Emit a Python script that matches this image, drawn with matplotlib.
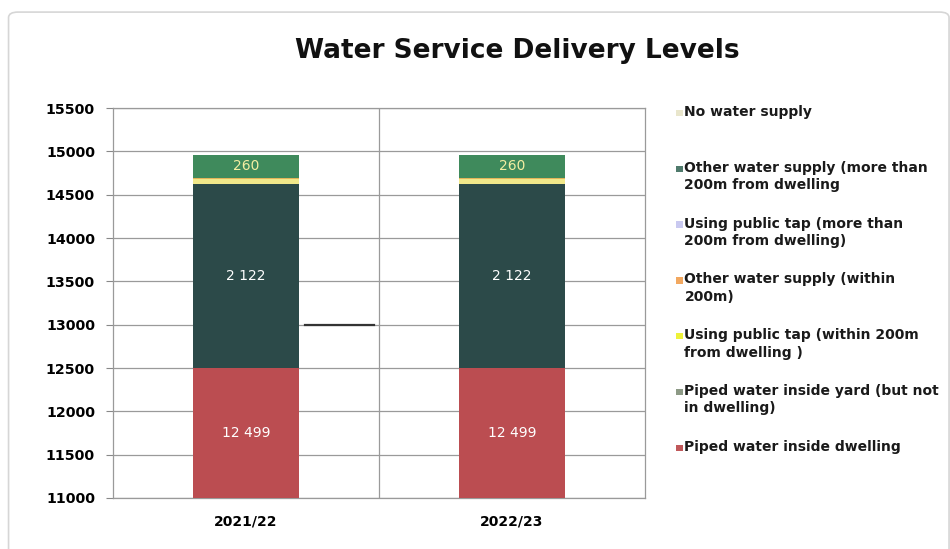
import matplotlib
matplotlib.use("Agg")
import matplotlib.pyplot as plt
import numpy as np
from matplotlib.patches import Rectangle, FancyBboxPatch

# ── Data ──
YEARS = ["2021/22", "2022/23"]
SERIES = [
    "Piped water inside dwelling",
    "Piped water inside yard (but not\nin dwelling)",
    "Using public tap (within 200m\nfrom dwelling )",
    "Other water supply (within\n200m)",
    "Using public tap (more than\n200m from dwelling)",
    "Other water supply (more than\n200m from dwelling",
    "No water supply",
]
VALUES = [
    [12499, 12499],
    [2122, 2122],
    [56, 56],
    [20, 20],
    [0, 0],
    [260, 260],
    [0, 0],
]
LABELLED = {0: "12 499", 1: "2 122", 5: "260"}

COLORS = ["#bb4d51", "#2c4a49", "#f1e88a", "#e2b45a", "#c6c6ee", "#3f8a5c", "#e9e6cc"]
LEGEND_COLORS = ["#c0585a", "#8d9a86", "#eef23a", "#f2a860", "#c9c9f0", "#4f7a6c", "#e9e6cc"]
TEXT_COLORS = {0: "white", 1: "white", 5: "#f3eea2"}

FONT = "DejaVu Sans"

fig = plt.figure(figsize=(9.5, 5.49), dpi=100)
fig.patches.append(FancyBboxPatch((0.009, -0.05), 0.99, 1.028, boxstyle="round,pad=0,rounding_size=0.01",
                                  transform=fig.transFigure, facecolor="none",
                                  edgecolor="#d6d6d6", linewidth=1.2))

ax = fig.add_axes([0.119, 0.093, 0.560, 0.710])
x = np.arange(len(YEARS))
bottom = np.zeros(len(YEARS))
for i, vals in enumerate(VALUES):
    vals = np.array(vals, dtype=float)
    ax.bar(x, vals, 0.4, bottom=bottom, color=COLORS[i], zorder=3, linewidth=0)
    if i in LABELLED:
        for xi, b, v in zip(x, bottom, vals):
            lo = max(b, 11000)
            ax.text(xi, (lo + b + v) / 2, LABELLED[i], ha="center", va="center",
                    color=TEXT_COLORS[i], fontsize=10, family=FONT, zorder=4)
    bottom += vals

ax.set_xlim(-0.5, 1.5)
ax.set_ylim(11000, 15500)
ax.set_yticks(np.arange(11000, 15501, 500))
ax.set_xticks(x)
ax.set_xticklabels(YEARS, fontsize=10, fontweight="bold", family=FONT)
ax.tick_params(axis="y", labelsize=10.2, length=5, color="#888888", pad=8)
ax.tick_params(axis="x", length=0, pad=12)
for lab in ax.get_yticklabels():
    lab.set_fontweight("bold")
    lab.set_family(FONT)
ax.grid(axis="y", color="#9a9a9a", linewidth=0.9, zorder=0)
ax.axvline(0.5, color="#9a9a9a", linewidth=0.9, zorder=0)
ax.plot([0.22, 0.48], [13000, 13000], color="#333333", linewidth=1.6, zorder=2)
for s in ax.spines.values():
    s.set_color("#9a9a9a")
    s.set_linewidth(0.9)

fig.text(0.545, 0.908, "Water Service Delivery Levels", ha="center", va="center",
         fontsize=19, fontweight="bold", family=FONT, color="#111111")

# legend, top series first
leg_x = 0.7205
leg_y0 = 1 - 113 / 549
leg_step = 55.8 / 549
for k, idx in enumerate(reversed(range(len(SERIES)))):
    y = leg_y0 - k * leg_step
    fig.patches.append(Rectangle((leg_x - 0.0085, y - 0.0058), 0.0065, 0.0115,
                                 transform=fig.transFigure, facecolor=LEGEND_COLORS[idx],
                                 edgecolor="none"))
    fig.text(leg_x, y + 8 / 549, SERIES[idx], ha="left", va="top", fontsize=10,
             fontweight="bold", family=FONT, color="#1a1a1a", linespacing=1.3)

fig.savefig("out.png", dpi=100)
